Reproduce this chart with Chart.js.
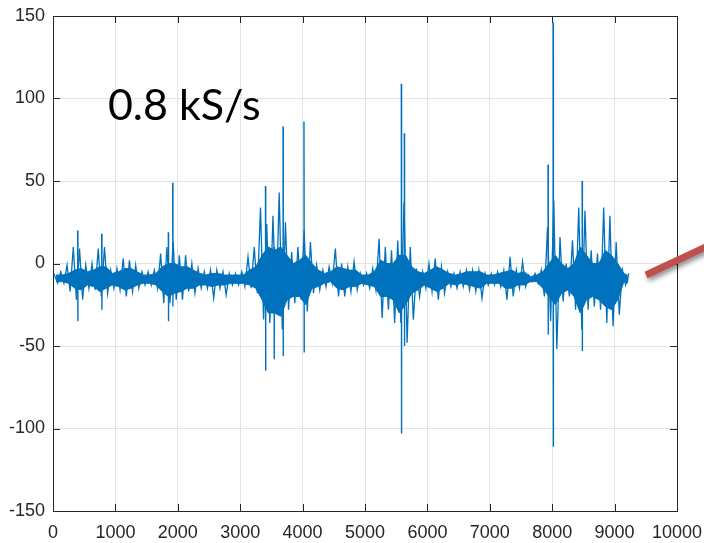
<!DOCTYPE html>
<html>
<head>
<meta charset="utf-8">
<script src="https://cdn.jsdelivr.net/npm/chart.js@4.4.1/dist/chart.umd.min.js"></script>
<style>
  html, body { margin: 0; padding: 0; background: #fff; }
  #wrap { width: 704px; height: 543px; }
</style>
</head>
<body>
<div id="wrap"><canvas id="sig"></canvas></div>
<script>
// 1. DATA
// signal read per 100-sample bin: outer extremes + dense core band,
// plus the isolated large spikes at their own sample index

const binSize = 100;

const envHigh = [
  -5, -5, -1, 10, 9, -1, 0, 9, 10, -4,
  -3, 3, 2, -1, -5, -5, -4, 6, 10, 13,
  5, 5, 0, -3, -5, -4, -4, -5, -6, -6,
  -5, 4, 10, 34, 24, 29, 43, 25, 7, 10,
  20, 13, -1, -4, -2, 9, 0, -2, 1, -6,
  -6, -3, 15, 10, 8, 14, 37, 10, -3, -5,
  0, 3, -2, -5, -6, -5, -4, -4, -4, -6,
  -6, -5, -4, 4, -4, 1, -7, -6, -4, 22,
  38, 16, 0, 14, 34, 32, 8, 6, 34, 29,
  13, -4, -6
];

const envLow = [
  -12, -12, -17, -22, -22, -15, -16, -20, -18, -15,
  -16, -20, -17, -15, -13, -13, -15, -24, -24, -22,
  -22, -17, -18, -15, -15, -21, -15, -19, -13, -13,
  -14, -15, -18, -34, -36, -30, -40, -28, -24, -22,
  -29, -18, -16, -14, -12, -20, -20, -17, -16, -13,
  -15, -16, -33, -28, -36, -36, -48, -34, -20, -15,
  -17, -22, -18, -14, -15, -14, -16, -17, -21, -13,
  -13, -14, -22, -20, -15, -14, -11, -12, -20, -35,
  -52, -23, -20, -28, -40, -28, -26, -28, -36, -38,
  -31, -13, -12
];

const coreHigh = [
  -7, -7, -6, -4, -3, -5, -4, -2, -2, -6,
  -5, -3, -3, -5, -7, -7, -6, -2, 0, 0,
  -2, -2, -4, -6, -7, -6, -6, -7, -7, -7,
  -7, -4, -2, 5, 10, 8, 10, 5, 0, 2,
  5, 0, -4, -6, -5, -2, -3, -4, -4, -7,
  -7, -5, 2, 0, 0, 5, 5, -2, -5, -6,
  -4, -2, -4, -6, -7, -6, -5, -5, -5, -7,
  -7, -6, -5, -4, -6, -5, -8, -7, -5, 0,
  5, 0, -3, 0, 10, 5, 0, 0, 8, 5,
  0, -6, -7
];

const coreLow = [
  -11, -11, -12, -15, -16, -13, -14, -17, -15, -13,
  -14, -16, -15, -13, -12, -12, -13, -17, -20, -18,
  -17, -15, -15, -13, -13, -14, -13, -13, -12, -12,
  -12, -13, -15, -22, -30, -30, -32, -22, -20, -20,
  -25, -15, -14, -12, -11, -15, -16, -14, -14, -12,
  -13, -14, -20, -20, -22, -30, -25, -18, -16, -13,
  -15, -17, -15, -12, -13, -12, -13, -14, -15, -12,
  -12, -12, -15, -15, -13, -13, -11, -11, -15, -20,
  -25, -18, -16, -20, -30, -22, -20, -22, -26, -28,
  -22, -11, -11
];

// isolated spikes: sample index, top, bottom
const spikeAt   = [395, 780, 1848, 1918, 3405, 3542, 3686, 4022, 5582, 5630, 7933, 8015, 8480];
const spikeHigh = [20, 18, 19, 49, 47, 10, 83, 86, 109, 79, 60, 146, 50];
const spikeLow  = [-35, -28, -35, -26, -65, -58, -56, -54, -103, -50, -43, -111, -53];

const xTicks = [0, 1000, 2000, 3000, 4000, 5000, 6000, 7000, 8000, 9000, 10000];
const yTicks = [-150, -100, -50, 0, 50, 100, 150];

const rateLabel = '0.8 kS/s';

// 2. BUILD POINTS
// zig-zag high -> low inside each bin
function buildTrace() {
  const pts = [];
  const last = envHigh.length - 1;
  for (let i = 0; i <= last; i++) {
    const x0 = i * binSize;
    pts.push({ x: i === 0 ? 0 : x0 + binSize / 4, y: envHigh[i] });
    pts.push({ x: i === last ? x0 : x0 + binSize * 3 / 4, y: envLow[i] });
  }
  return pts;
}

function buildCore(arr) {
  const last = arr.length - 1;
  return arr.map((v, i) => ({ x: i === last ? i * binSize : i * binSize + binSize / 2, y: v }));
}

// vertical strokes, broken by null
function buildSpikes() {
  const pts = [];
  spikeAt.forEach((s, i) => {
    pts.push({ x: s, y: spikeHigh[i] });
    pts.push({ x: s + 4, y: spikeLow[i] });
    pts.push({ x: s + 4, y: null });
  });
  return pts;
}

// 3. PLUGIN: box, inward ticks, label, red arrow
const frameLook = {
  id: 'frameLook',
  afterDraw(chart) {
    const { ctx, chartArea: a, scales } = chart;
    const xs = scales.x, ys = scales.y;
    const tickLen = 7;

    ctx.save();
    ctx.strokeStyle = '#262626';
    ctx.lineWidth = 1;

    ctx.beginPath();
    xTicks.forEach(v => {
      const px = Math.round(xs.getPixelForValue(v)) + 0.5;
      ctx.moveTo(px, a.bottom); ctx.lineTo(px, a.bottom - tickLen);
      ctx.moveTo(px, a.top);    ctx.lineTo(px, a.top + tickLen);
    });
    yTicks.forEach(v => {
      const py = Math.round(ys.getPixelForValue(v)) + 0.5;
      ctx.moveTo(a.left, py);  ctx.lineTo(a.left + tickLen, py);
      ctx.moveTo(a.right, py); ctx.lineTo(a.right - tickLen, py);
    });
    ctx.stroke();

    ctx.strokeRect(Math.round(a.left) + 0.5, Math.round(a.top) + 0.5,
                   Math.round(a.right - a.left), Math.round(a.bottom - a.top));

    // sample rate text
    ctx.fillStyle = '#000';
    ctx.font = '43px Lato, "Open Sans", sans-serif';
    ctx.textBaseline = 'alphabetic';
    ctx.fillText(rateLabel, xs.getPixelForValue(880), ys.getPixelForValue(87));

    // red pointer with soft shadow
    ctx.shadowColor = 'rgba(0,0,0,0.45)';
    ctx.shadowBlur = 5;
    ctx.shadowOffsetX = 2;
    ctx.shadowOffsetY = 3;
    ctx.strokeStyle = '#C0504D';
    ctx.lineWidth = 7;
    ctx.lineCap = 'butt';
    ctx.beginPath();
    ctx.moveTo(a.right - 31, a.top + 259);
    ctx.lineTo(a.right + 35, a.top + 228);
    ctx.stroke();
    ctx.restore();
  }
};

// 4. CHART
function buildChart() {
  const ctx = document.getElementById('sig').getContext('2d');
  const blue = '#0072BD';
  const lineBase = { borderColor: blue, pointRadius: 0, tension: 0 };
  return new Chart(ctx, {
    type: 'line',
    data: {
      datasets: [
        { ...lineBase, data: buildCore(coreLow), borderWidth: 1, fill: false },
        { ...lineBase, data: buildCore(coreHigh), borderWidth: 1, backgroundColor: blue, fill: '-1' },
        { ...lineBase, data: buildTrace(), borderWidth: 1.3, fill: false },
        { ...lineBase, data: buildSpikes(), borderWidth: 1.4, fill: false, spanGaps: false }
      ]
    },
    options: {
      responsive: true,
      maintainAspectRatio: false,
      animation: false,
      layout: { padding: { left: 0, right: 27, top: 16, bottom: 0 } },
      plugins: { legend: { display: false }, tooltip: { enabled: false } },
      scales: {
        x: {
          type: 'linear',
          min: 0, max: 10000,
          afterBuildTicks: s => { s.ticks = xTicks.map(v => ({ value: v })); },
          afterFit: s => { s.height = 32; s.paddingLeft = 0; s.paddingRight = 0; },
          grid: { color: '#e3e3e3', drawTicks: false },
          border: { display: false },
          ticks: {
            padding: 11,
            color: '#262626',
            font: { family: '"Liberation Sans", Arial, sans-serif', size: 18 },
            maxRotation: 0,
            autoSkip: false,
            callback: v => String(v)
          }
        },
        y: {
          type: 'linear',
          min: -150, max: 150,
          afterBuildTicks: s => { s.ticks = yTicks.map(v => ({ value: v })); },
          afterFit: s => { s.width = 53; s.paddingTop = 0; s.paddingBottom = 0; },
          grid: { color: '#e3e3e3', drawTicks: false },
          border: { display: false },
          ticks: {
            padding: 8,
            color: '#262626',
            font: { family: '"Liberation Sans", Arial, sans-serif', size: 18 },
            callback: v => String(v)
          }
        }
      }
    },
    plugins: [frameLook]
  });
}

document.addEventListener('DOMContentLoaded', () => {
  buildChart();
});
</script>
</body>
</html>
